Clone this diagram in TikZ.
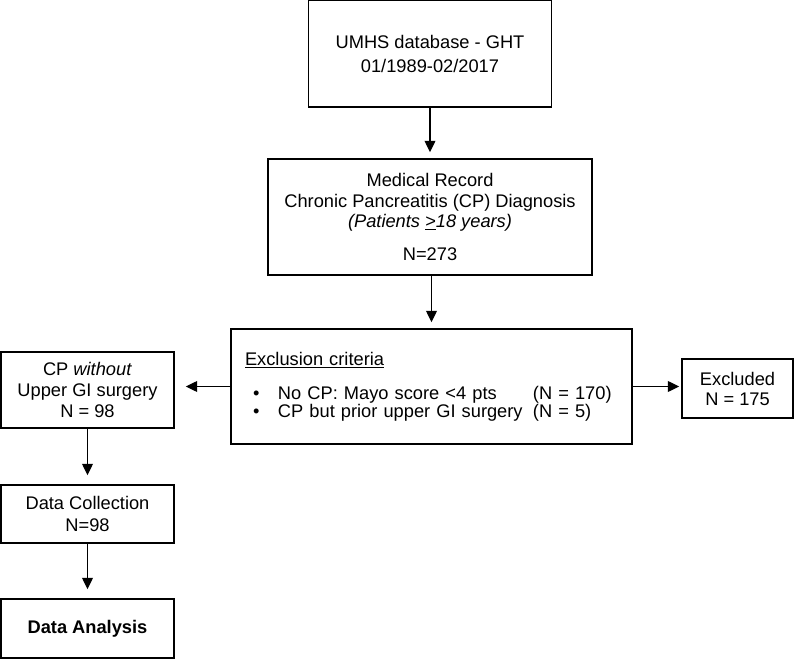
\documentclass[tikz,border=0pt]{standalone}
\usepackage{fontspec}
\setmainfont{Liberation Sans}
\usetikzlibrary{arrows.meta}

% One bullet row of the exclusion list
\newcommand{\exitem}[2]{\hspace*{6pt}\makebox[18.75pt][l]{\textbullet}\makebox[191.25pt][l]{#1}#2}

\begin{document}
\begin{tikzpicture}[x=0.75pt,y=-0.75pt,
  font=\fontsize{13.7}{15.5}\selectfont,
  box/.style={draw, line width=1.1pt, inner sep=0pt, align=center},
  flow/.style={line width=1pt, -{Triangle[length=8.5pt,width=8pt]}}]
% Canvas in pixels of the reference
\useasboundingbox (0,0) rectangle (800,659);

% Main column
\node[box, minimum width=182.25pt, minimum height=79.7pt,
      font=\fontsize{13.7}{18}\selectfont] (umhs) at (430,53.85)
  {UMHS database - GHT\\01/1989-02/2017};
\node[box, minimum width=243pt, minimum height=87pt] (record) at (430,217)
  {Medical Record\\Chronic Pancreatitis (CP) Diagnosis\\
   \textit{(Patients \underline{>}18 years)}\\[9pt]N=273};
\node[box, align=left, minimum width=300.75pt, minimum height=86.25pt,
      text width=279.75pt, inner xsep=10.5pt,
      font=\fontsize{13.7}{13.3}\selectfont] (excl) at (431.5,386.5)
  {\underline{Exclusion criteria}\\[12.2pt]
   \exitem{No CP: Mayo score <4 pts}{(N = 170)}\\
   \exitem{CP but prior upper GI surgery}{(N = 5)}};

% Excluded patients
\node[box, minimum width=83.25pt, minimum height=44.25pt,
      font=\fontsize{13.7}{15}\selectfont] (excluded) at (737.5,388.5)
  {Excluded\\N = 175};

% Study group
\node[box, minimum width=129.75pt, minimum height=57pt] (cpgroup) at (87.5,390)
  {CP \textit{without}\\Upper GI surgery\\N = 98};
\node[box, minimum width=129.75pt, minimum height=43.5pt,
      font=\fontsize{13.7}{16.5}\selectfont] (collect) at (87.5,514)
  {Data Collection\\N=98};
\node[box, minimum width=129.75pt, minimum height=44.25pt] (analysis) at (87.5,628.5)
  {\textbf{Data Analysis}};

% Connectors
\draw[flow, shorten >=4.5pt] (umhs) -- (record);
\draw[flow, shorten >=4.5pt] (record) -- (excl.north |- record.south) -- (excl.north);
\draw[flow, shorten >=8.25pt] (excl.west) -- (excl.west -| cpgroup.east);
\draw[flow, shorten >=1.5pt] (excl.east) -- (excl.east -| excluded.west);
\draw[flow, shorten >=6.75pt] (cpgroup) -- (collect);
\draw[flow, shorten >=6.75pt] (collect) -- (analysis);

\end{tikzpicture}
\end{document}
